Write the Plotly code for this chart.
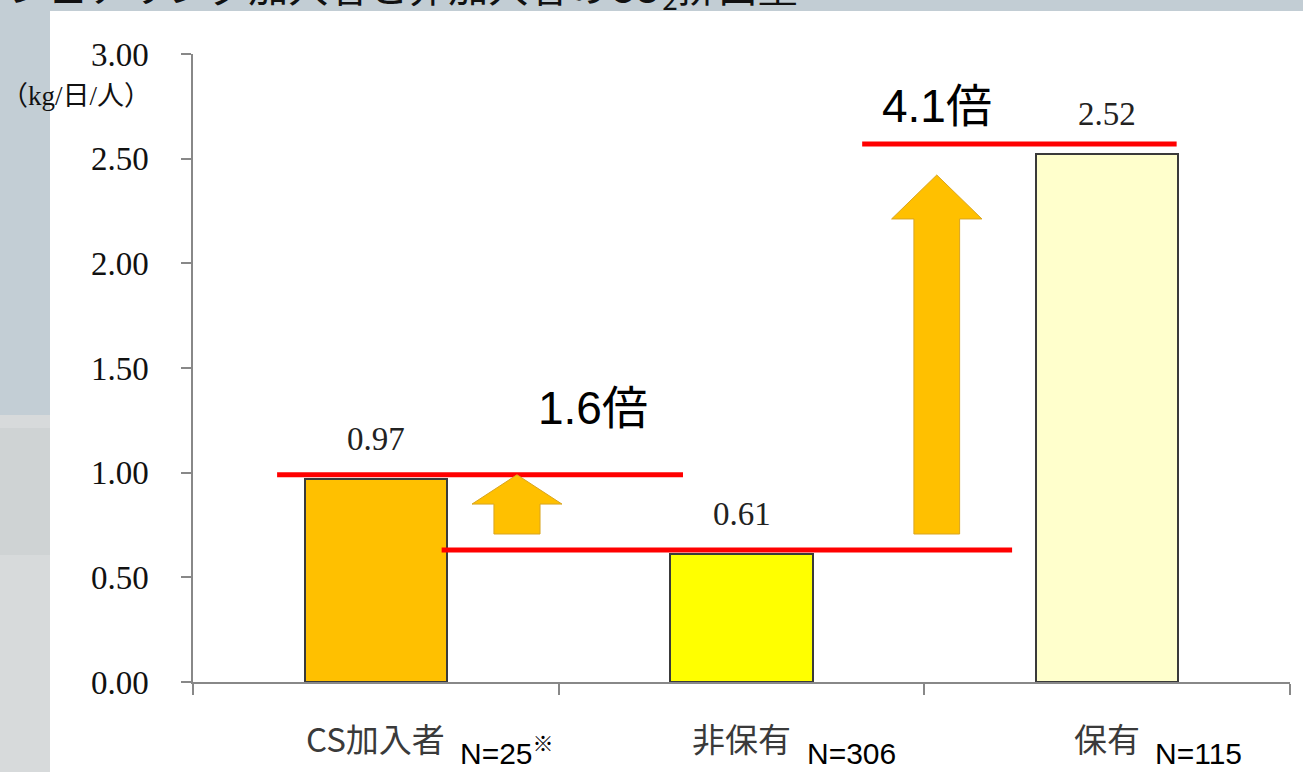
import plotly.graph_objects as go

# ---------------- data ----------------
categories = ["CS加入者", "非保有", "保有"]
sample_sizes = ["N=25※", "N=306", "N=115"]
values = [0.97, 0.61, 2.52]
bar_colors = ["#FFC000", "#FFFF00", "#FFFFCC"]
y_ticks = [0.0, 0.5, 1.0, 1.5, 2.0, 2.5, 3.0]
unit_label = "（kg/日/人）"
title_text = "カーシェアリング加入者と非加入者のCO<sub>2</sub>排出量"

# ---------------- layout geometry (pixels) ----------------
W, H = 1303, 772
L, R, T, B = 193, 13, 54, 90
PW, PH = W - L - R, H - T - B


def px2paper_x(px):
    return (px - L) / PW


def px2paper_y(py):
    return (H - B - py) / PH


x_idx = list(range(len(categories)))

fig = go.Figure()
fig.add_trace(go.Bar(
    x=x_idx, y=values, width=0.39,
    marker=dict(color=bar_colors, line=dict(color="#3a3a3a", width=2)),
    hoverinfo="skip", showlegend=False,
))

shapes = []
# slide background pieces (outside plot area)
shapes.append(dict(type="rect", xref="paper", yref="paper",
                   x0=px2paper_x(0), x1=px2paper_x(W), y0=px2paper_y(0), y1=px2paper_y(11),
                   fillcolor="#c2cdd4", line=dict(width=0), layer="below"))
shapes.append(dict(type="rect", xref="paper", yref="paper",
                   x0=px2paper_x(0), x1=px2paper_x(50), y0=px2paper_y(0), y1=px2paper_y(415),
                   fillcolor="#c3ced5", line=dict(width=0), layer="below"))
shapes.append(dict(type="rect", xref="paper", yref="paper",
                   x0=px2paper_x(0), x1=px2paper_x(50), y0=px2paper_y(415), y1=px2paper_y(H),
                   fillcolor="#d7dadb", line=dict(width=0), layer="below"))
shapes.append(dict(type="rect", xref="paper", yref="paper",
                   x0=px2paper_x(0), x1=px2paper_x(50), y0=px2paper_y(428), y1=px2paper_y(555),
                   fillcolor="#cfd3d4", line=dict(width=0), layer="below"))

# red reference lines at (slightly above) each bar level
ref_lines = [
    (values[0] + 0.02, -0.27, 0.84),
    (values[1] + 0.02, 0.18, 1.74),
    (values[2] + 0.05, 1.33, 2.19),
]
for yv, xa, xb in ref_lines:
    shapes.append(dict(type="line", xref="x", yref="y", x0=xa, x1=xb, y0=yv, y1=yv,
                       line=dict(color="#FF0000", width=5)))


def up_arrow(xc, y0, y1, shaft_hw, head_hw, head_len):
    yb = y1 - head_len
    path = (f"M {xc - shaft_hw},{y0} L {xc + shaft_hw},{y0} L {xc + shaft_hw},{yb} "
            f"L {xc + head_hw},{yb} L {xc},{y1} L {xc - head_hw},{yb} "
            f"L {xc - shaft_hw},{yb} Z")
    return dict(type="path", xref="x", yref="y", path=path,
                fillcolor="#FFC000", line=dict(color="#D9A520", width=1))


arrow_base = ref_lines[1][0] + 0.077
shapes.append(up_arrow(0.386, arrow_base, ref_lines[0][0], 0.063, 0.123, 0.14))
shapes.append(up_arrow(1.534, arrow_base, ref_lines[2][0] - 0.148, 0.0625, 0.1235, 0.21))

annotations = []
# value labels
for i, v in enumerate(values):
    annotations.append(dict(x=i, y=v, xref="x", yref="y", text=f"{v:.2f}",
                            showarrow=False, yanchor="bottom", yshift=20,
                            font=dict(family="Liberation Serif, Noto Sans CJK JP", size=33, color="#222")))


def label_width(s):
    return sum(34 if ord(c) > 255 else 19 for c in s)


# category labels with sample sizes
for i, (c, n) in enumerate(zip(categories, sample_sizes)):
    annotations.append(dict(x=i, y=0, xref="x", yref="y", text=c, showarrow=False,
                            xanchor="center", yanchor="middle", yshift=-56,
                            font=dict(family="Noto Sans CJK JP", size=33, color="#3a3a3a")))
    annotations.append(dict(x=i, y=0, xref="x", yref="y",
                            text=n.replace("※", "<sup>※</sup>"), showarrow=False,
                            xanchor="left", yanchor="bottom", yshift=-90,
                            xshift=label_width(c) / 2 + 12,
                            font=dict(family="Liberation Sans, Noto Sans CJK JP", size=30, color="#000")))

# ratio labels
ratio1 = values[0] / values[1]
ratio2 = values[2] / values[1]
annotations.append(dict(x=0.594, y=1.309, xref="x", yref="y", text=f"{ratio1:.1f}倍",
                        showarrow=False, xanchor="center", yanchor="middle",
                        font=dict(family="Liberation Sans, Noto Sans CJK JP", size=46, color="#000")))
annotations.append(dict(x=1.534, y=2.752, xref="x", yref="y", text=f"{ratio2:.1f}倍",
                        showarrow=False, xanchor="center", yanchor="middle",
                        font=dict(family="Liberation Sans, Noto Sans CJK JP", size=46, color="#000")))

# unit label
annotations.append(dict(x=px2paper_x(76), y=px2paper_y(96), xref="paper", yref="paper",
                        text=unit_label, showarrow=False, xanchor="center", yanchor="middle",
                        font=dict(family="Liberation Serif, Noto Sans CJK JP", size=27, color="#111")))

# cut-off slide title (only its lower edge is visible, as on the source slide)
annotations.append(dict(x=px2paper_x(800), y=px2paper_y(-13), xref="paper", yref="paper",
                        text=title_text, showarrow=False, xanchor="right", yanchor="middle",
                        font=dict(family="Noto Sans CJK JP", size=40, color="#111")))

fig.update_layout(
    width=W, height=H,
    margin=dict(l=L, r=R, t=T, b=B, pad=0),
    paper_bgcolor="white", plot_bgcolor="white",
    shapes=shapes, annotations=annotations,
    bargap=0,
    xaxis=dict(range=[-0.5, 2.5], tickvals=[-0.5, 0.5, 1.5, 2.5], showticklabels=False,
               ticks="outside", ticklen=11, tickcolor="#888", tickwidth=1.5,
               showline=True, linecolor="#888", linewidth=1.5, showgrid=False,
               zeroline=False, fixedrange=True),
    yaxis=dict(range=[0, 3], tickvals=y_ticks, ticktext=[f"{t:.2f}" for t in y_ticks],
               ticks="outside", ticklen=10, tickcolor="#888", tickwidth=1.5,
               showline=True, linecolor="#888", linewidth=1.5, showgrid=False,
               zeroline=False, ticklabelstandoff=26,
               tickfont=dict(family="Liberation Serif", size=33, color="#111"), fixedrange=True),
)

fig.write_html(
    "out.html",
    config={"displayModeBar": False},
    post_script="document.body.style.margin='0';document.body.style.overflow='hidden';",
)
